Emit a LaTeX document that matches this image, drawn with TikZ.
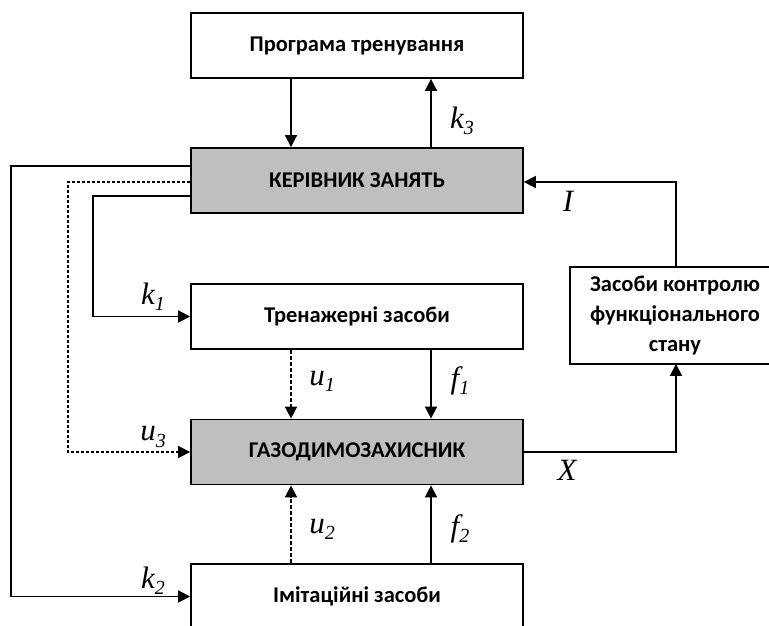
\documentclass[tikz,border=0pt]{standalone}
\usepackage{fontspec}
\setmainfont{Carlito}
\newfontfamily\lblfont{Liberation Serif}
\usetikzlibrary{arrows.meta}
\definecolor{boxgray}{HTML}{BFBFBF}
\newcommand{\lsub}[1]{\raisebox{-0.2em}{\fontsize{20}{20}\selectfont #1}}
\begin{document}
\begin{tikzpicture}[x=1pt,y=-1pt,
  box/.style={draw, line width=1.8pt, minimum width=332pt, minimum height=65pt,
    font=\bfseries\fontsize{22.5}{26}\selectfont, inner sep=0pt},
  grey/.style={fill=boxgray},
  lbl/.style={font=\lblfont\itshape\fontsize{31}{33}\selectfont, inner sep=0pt},
  conn/.style={line width=1.7pt},
  arr/.style={conn, -{Triangle[length=12pt,width=12pt]}},
  dsh/.style={dash pattern=on 4pt off 2pt},
  dts/.style={dash pattern=on 3pt off 2pt}]
\useasboundingbox (0,0) rectangle (769,625);
\clip (0,0) rectangle (769,625);

\node[box] (top) at (357,45.5) {Програма тренування};
\node[box,grey] (ker) at (357,180.5) {КЕРІВНИК ЗАНЯТЬ};
\node[box] (tren) at (357,316.5) {Тренажерні засоби};
\node[box,grey] (gazo) at (357,452) {ГАЗОДИМОЗАХИСНИК};
\node[box] (imit) at (357,596.5) {Імітаційні засоби};
\node[box, draw=none, minimum width=208pt, minimum height=95pt, align=center,
  font=\bfseries\fontsize{22.5}{30}\selectfont] (ctrl) at (675,315.5)
  {Засоби контролю\\функціонального\\стану};
\draw[line width=1.8pt] (ctrl.south west) rectangle ([xshift=60pt]ctrl.north east);

\coordinate (xa) at (291,0);
\coordinate (xb) at (431,0);
\coordinate (xr) at (676,0);
\coordinate (xo) at (11,0);
\coordinate (xd) at (68,0);
\coordinate (xk) at (93,0);
\coordinate (yo) at (0,166);
\coordinate (yd) at (0,182);
\coordinate (yk) at (0,196);
\coordinate (yi) at (0,182);

% top <-> ker
\draw[arr] (top.south -| xa) -- (ker.north -| xa);
\draw[arr] (ker.north -| xb) -- (top.south -| xb);
% ctrl -> ker
\draw[arr] (ctrl.north -| xr) |- (ker.east |- yi);
% gazo -> ctrl
\draw[arr] (gazo.east) -| (ctrl.south -| xr);
% tren -> gazo
\draw[arr,dsh] (tren.south -| xa) -- (gazo.north -| xa);
\draw[arr] (tren.south -| xb) -- (gazo.north -| xb);
% imit -> gazo
\draw[arr,dsh] (imit.north -| xa) -- (gazo.south -| xa);
\draw[arr] (imit.north -| xb) -- (gazo.south -| xb);
% left connectors
\draw[arr] (ker.west |- yo) -- (xo |- yo) -- (xo |- imit.west) -- (imit.west);
\draw[arr,dts] (ker.west |- yd) -- (xd |- yd) -- (xd |- gazo.west) -- (gazo.west);
\draw[arr] (ker.west |- yk) -- (xk |- yk) -- (xk |- tren.west) -- (tren.west);

% labels
\node[lbl] (lk3) at (462,121) {k\lsub{3}};
\node[lbl] (lI) at (568,201) {I};
\node[lbl] (lX) at (567,470) {X};
\node[lbl] (lu1) at (322,381) {u\lsub{1}};
\node[lbl] (lf1) at (460,381) {f\lsub{1}};
\node[lbl] (lu2) at (322,529) {u\lsub{2}};
\node[lbl] (lf2) at (460,529) {f\lsub{2}};
\node[lbl] (lk1) at (153,297) {k\lsub{1}};
\node[lbl] (lu3) at (153,437) {u\lsub{3}};
\node[lbl] (lk2) at (153,581) {k\lsub{2}};
\end{tikzpicture}
\end{document}
